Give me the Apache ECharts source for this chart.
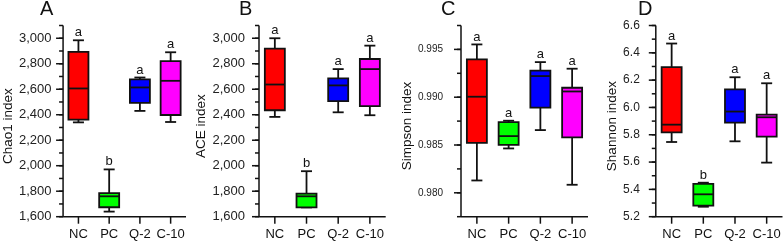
<!DOCTYPE html>
<html>
<head>
<meta charset="utf-8">
<script src="https://cdn.jsdelivr.net/npm/echarts@6/dist/echarts.min.js"></script>
<style>
html,body{margin:0;padding:0;background:#fff;}
#chart{width:784px;height:244px;}
</style>
</head>
<body>
<div id="chart"></div>
<script>
// ---- data ----
const categories = ['NC', 'PC', 'Q-2', 'C-10'];
// each row: [min, Q1, median, Q3, max]
const chao1 = [
  [2340, 2362, 2606, 2893, 2984],
  [1640, 1674, 1760, 1785, 1971],
  [2430, 2493, 2614, 2678, 2692],
  [2343, 2398, 2666, 2821, 2890]
];
const ace = [
  [2383, 2435, 2637, 2919, 3000],
  [1673, 1673, 1760, 1781, 1957],
  [2419, 2506, 2630, 2685, 2758],
  [2396, 2467, 2758, 2837, 2942]
];
const simpson = [
  [0.98129, 0.98523, 0.99005, 0.99395, 0.99552],
  [0.98464, 0.98502, 0.98593, 0.98740, 0.98754],
  [0.98656, 0.98890, 0.99221, 0.99277, 0.99367],
  [0.98084, 0.98579, 0.99060, 0.99099, 0.99298]
];
const shannon = [
  [5.747, 5.818, 5.874, 6.295, 6.468],
  [5.273, 5.281, 5.364, 5.440, 5.449],
  [5.752, 5.889, 5.970, 6.133, 6.221],
  [5.596, 5.786, 5.928, 5.948, 6.177]
];
const lettersChao1 = ['a', 'b', 'a', 'a'];
const lettersAce = ['a', 'b', 'a', 'a'];
const lettersSimpson = ['a', 'a', 'a', 'a'];
const lettersShannon = ['a', 'b', 'a', 'a'];
const panelTitles = ['A', 'B', 'C', 'D'];
const yNames = ['Chao1 index', 'ACE index', 'Simpson index', 'Shannon index'];
const chao1Ticks = [1600, 1800, 2000, 2200, 2400, 2600, 2800, 3000];
const aceTicks = [1600, 1800, 2000, 2200, 2400, 2600, 2800, 3000];
const simpsonTicks = [0.980, 0.985, 0.990, 0.995];
const shannonTicks = [5.2, 5.4, 5.6, 5.8, 6.0, 6.2, 6.4, 6.6];

// ---- styles / layout ----
const boxColors = ['#ff0000', '#00ff00', '#0000ff', '#ff00ff'];
const FONT = 'Arial, "Liberation Sans", sans-serif';
const INK = '#111';
const PAD_L = 12;   // extra grid room left of the drawn y axis (for ticks)
const PAD_B = 10;   // extra grid room below the drawn x axis (for ticks)
const PLOT_TOP = 25.5, PLOT_H = 191.2;

const panels = [
  { data: chao1, letters: lettersChao1, ticks: chao1Ticks, min: 1600, max: 3100, step: 100,
    fmt: v => Math.round(v).toLocaleString('en-US'), axisX: 59.3, plotW: 126.7,
    labelSize: 13, labelMargin: 12, nameGap: 46, titleLeft: 40 },
  { data: ace, letters: lettersAce, ticks: aceTicks, min: 1600, max: 3100, step: 100,
    fmt: v => Math.round(v).toLocaleString('en-US'), axisX: 259, plotW: 126.7,
    labelSize: 13, labelMargin: 14, nameGap: 44, titleLeft: 239 },
  { data: simpson, letters: lettersSimpson, ticks: simpsonTicks, min: 0.9775, max: 0.9975, step: 0.0025,
    fmt: v => v.toFixed(3), axisX: 461, plotW: 127,
    labelSize: 10, labelMargin: 18, nameGap: 44, titleLeft: 441 },
  { data: shannon, letters: lettersShannon, ticks: shannonTicks, min: 5.2, max: 6.6, step: 0.1,
    fmt: v => v.toFixed(1), axisX: 655.8, plotW: 126.7,
    labelSize: 12, labelMargin: 16, nameGap: 36, titleLeft: 638 }
];

const option = {
  animation: false,
  backgroundColor: '#fff',
  title: [],
  grid: [],
  xAxis: [],
  yAxis: [],
  series: []
};

panels.forEach((p, gi) => {
  const nCat = categories.length;
  const unitPx = p.plotW / nCat;                      // px per category
  const xMinExt = -0.5 - PAD_L / unitPx;               // extended x range
  const yPerPx = (p.max - p.min) / PLOT_H;
  const yMinExt = p.min - PAD_B * yPerPx;              // extended y range

  option.title.push({
    text: panelTitles[gi], left: p.titleLeft, top: -1, padding: 0,
    textStyle: { fontSize: 20, fontWeight: 'normal', color: INK, fontFamily: FONT }
  });
  option.grid.push({ left: p.axisX - PAD_L, top: PLOT_TOP, width: p.plotW + PAD_L, height: PLOT_H + PAD_B });
  option.xAxis.push({
    type: 'value', gridIndex: gi, min: xMinExt, max: nCat - 0.5,
    axisLine: { show: false, onZero: false },
    axisTick: { show: false },
    splitLine: { show: false },
    axisLabel: {
      show: true, customValues: categories.map((c, i) => i),
      formatter: v => categories[Math.round(v)] || '',
      color: INK, fontSize: 13, fontFamily: FONT, margin: 1
    }
  });
  option.yAxis.push({
    type: 'value', gridIndex: gi, min: yMinExt, max: p.max,
    name: yNames[gi], nameLocation: 'middle', nameGap: p.nameGap - PAD_L,
    nameTextStyle: { color: INK, fontSize: 13.5, fontFamily: FONT },
    axisLine: { show: false, onZero: false },
    axisTick: { show: false },
    splitLine: { show: false },
    axisLabel: {
      show: true, customValues: p.ticks,
      formatter: v => p.fmt(v),
      color: '#222', fontSize: p.labelSize, fontFamily: FONT, margin: p.labelMargin - PAD_L
    }
  });
  const seriesData = p.data.map((row, i) => [i].concat(row));
  const letters = p.letters;
  option.series.push({
    type: 'custom', xAxisIndex: gi, yAxisIndex: gi, z: 10, clip: false,
    encode: { x: 0, y: [1, 2, 3, 4, 5] },
    data: seriesData,
    renderItem: function (params, api) {
      const i = api.value(0);
      const pMin = api.coord([i, api.value(1)]);
      const pQ1 = api.coord([i, api.value(2)]);
      const pMed = api.coord([i, api.value(3)]);
      const pQ3 = api.coord([i, api.value(4)]);
      const pMax = api.coord([i, api.value(5)]);
      const x = pMin[0];
      const hw = 10, cw = 5.5;
      const ls = { stroke: INK, lineWidth: 1.8 };
      const axisStyle = { stroke: INK, lineWidth: 1.5 };
      const pBase = api.coord([i, p.min]);
      const children = [
        { type: 'line', shape: { x1: x, y1: pQ3[1], x2: x, y2: pMax[1] }, style: ls },
        { type: 'line', shape: { x1: x, y1: pQ1[1], x2: x, y2: pMin[1] }, style: ls },
        { type: 'line', shape: { x1: x - cw, y1: pMax[1], x2: x + cw, y2: pMax[1] }, style: ls },
        { type: 'line', shape: { x1: x - cw, y1: pMin[1], x2: x + cw, y2: pMin[1] }, style: ls },
        { type: 'rect', shape: { x: x - hw, y: pQ3[1], width: hw * 2, height: pQ1[1] - pQ3[1] },
          style: { fill: boxColors[params.dataIndex], stroke: INK, lineWidth: 1.8 } },
        { type: 'line', shape: { x1: x - hw, y1: pMed[1], x2: x + hw, y2: pMed[1] }, style: ls },
        { type: 'text', x: x, y: pMax[1] - 1,
          style: { text: letters[params.dataIndex], textAlign: 'center', textVerticalAlign: 'bottom',
                   fontSize: 13, fontFamily: FONT, fill: INK } },
        // category tick below the x axis
        { type: 'line', shape: { x1: x, y1: pBase[1], x2: x, y2: pBase[1] + 7 }, style: axisStyle }
      ];
      if (params.dataIndex === 0) {
        const pOrigin = api.coord([-0.5, p.min]);
        const pEnd = api.coord([nCat - 0.5, p.min]);
        const pTop = api.coord([-0.5, p.max]);
        // axis lines
        children.push({ type: 'line', shape: { x1: pOrigin[0], y1: pOrigin[1], x2: pEnd[0], y2: pEnd[1] }, style: axisStyle });
        children.push({ type: 'line', shape: { x1: pOrigin[0], y1: pOrigin[1], x2: pTop[0], y2: pTop[1] }, style: axisStyle });
        // minor y ticks
        for (let k = 0; p.min + k * p.step <= p.max + p.step * 1e-6; k++) {
          const pt = api.coord([-0.5, p.min + k * p.step]);
          children.push({ type: 'line', shape: { x1: pt[0] - 4, y1: pt[1], x2: pt[0], y2: pt[1] }, style: axisStyle });
        }
        // major y ticks
        p.ticks.forEach(t => {
          const pt = api.coord([-0.5, t]);
          children.push({ type: 'line', shape: { x1: pt[0] - 7, y1: pt[1], x2: pt[0], y2: pt[1] }, style: axisStyle });
        });
      }
      return { type: 'group', children: children };
    }
  });
});

const chart = echarts.init(document.getElementById('chart'), null, { renderer: 'canvas' });
chart.setOption(option);
</script>
</body>
</html>
